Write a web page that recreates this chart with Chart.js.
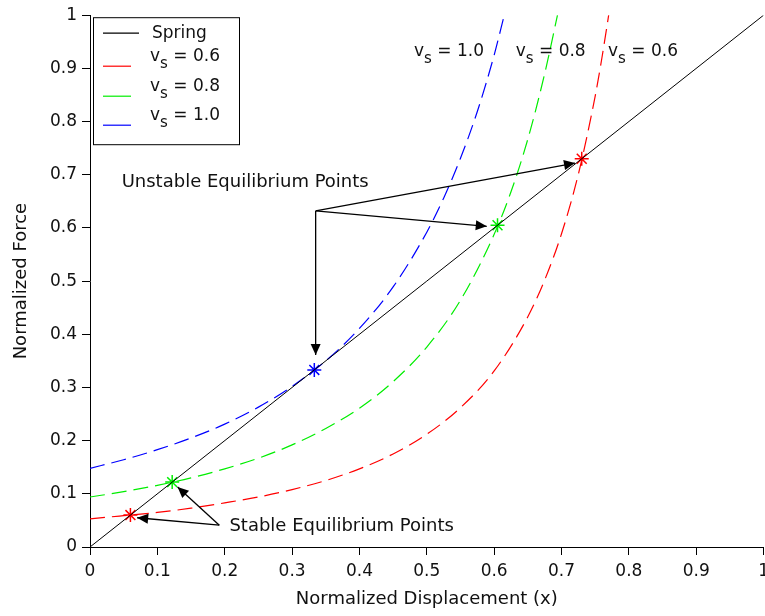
<!DOCTYPE html>
<html>
<head>
<meta charset="utf-8">
<script src="https://cdn.jsdelivr.net/npm/chart.js@4"></script>
<style>
  html, body { margin: 0; padding: 0; background: #fff; overflow: hidden; }
  #wrap { width: 765px; height: 616px; overflow: hidden; }
</style>
</head>
<body>
<div id="wrap"><canvas id="mycanvas" width="775" height="616"></canvas></div>
<script>
// axis ticks
var tickLabels = ['0', '0.1', '0.2', '0.3', '0.4', '0.5', '0.6', '0.7', '0.8', '0.9', '1'];

// spring line
var springX = [0, 1];
var springY = [0, 1];

// electrostatic force curves
var redX = [0, 0.05, 0.1, 0.15, 0.2, 0.25, 0.3, 0.35, 0.4, 0.45, 0.5, 0.55, 0.6, 0.65, 0.675, 0.7, 0.725, 0.75, 0.76, 0.77];
var redY = [0.053, 0.059, 0.065, 0.073, 0.083, 0.094, 0.108, 0.125, 0.147, 0.175, 0.212, 0.262, 0.331, 0.433, 0.502, 0.589, 0.701, 0.848, 0.920, 1.0];

var greenX = [0, 0.05, 0.1, 0.15, 0.2, 0.25, 0.3, 0.35, 0.4, 0.45, 0.5, 0.55, 0.6, 0.625, 0.65, 0.675, 0.694];
var greenY = [0.094, 0.104, 0.116, 0.130, 0.147, 0.167, 0.192, 0.223, 0.261, 0.311, 0.376, 0.464, 0.588, 0.668, 0.767, 0.890, 1.0];

var blueX = [0, 0.05, 0.1, 0.15, 0.2, 0.25, 0.3, 0.35, 0.4, 0.45, 0.5, 0.525, 0.55, 0.575, 0.6, 0.615];
var blueY = [0.148, 0.164, 0.183, 0.205, 0.231, 0.263, 0.302, 0.350, 0.411, 0.489, 0.592, 0.656, 0.731, 0.819, 0.925, 1.0];

// equilibrium points
var eqX = [0.06, 0.122, 0.333, 0.605, 0.73];
var eqY = [0.06, 0.122, 0.333, 0.605, 0.73];
var eqColors = ['#ff0000', '#00ee00', '#0000ff', '#00ee00', '#ff0000'];

// annotation arrows (data coords)
var unstableFrom = [0.335, 0.632];
var unstableTo = [[0.720, 0.722], [0.589, 0.603], [0.335, 0.361]];
var stableFrom = [0.192, 0.041];
var stableTo = [[0.070, 0.055], [0.130, 0.113]];

// annotation texts
var unstableText = { text: 'Unstable Equilibrium Points', x: 0.047, y: 0.686 };
var stableText = { text: 'Stable Equilibrium Points', x: 0.207, y: 0.038 };
var curveLabels = [
  { v: '1.0', x: 0.481, y: 0.934 },
  { v: '0.8', x: 0.632, y: 0.934 },
  { v: '0.6', x: 0.769, y: 0.934 }
];

var legendNames = ['Spring', '0.6', '0.8', '1.0'];
var legendColors = ['#000000', '#ff0000', '#00ee00', '#0000ff'];

function pts(xs, ys) {
  var out = [];
  for (var i in xs) {
    out.push({ x: xs[i], y: ys[i] });
  }
  return out;
}

var FONT = 'DejaVu Sans';
var TXT = '#111';

function vsText(ctx, x, y, val) {
  // "v" with subscript "s" then " = val"
  ctx.font = '17px ' + FONT;
  ctx.textBaseline = 'alphabetic';
  ctx.textAlign = 'left';
  ctx.fillText('v', x, y);
  var w = ctx.measureText('v').width;
  ctx.font = '15px ' + FONT;
  ctx.fillText('s', x + w, y + 7);
  var w2 = ctx.measureText('s').width;
  ctx.font = '17px ' + FONT;
  ctx.fillText(' = ' + val, x + w + w2, y);
}

function arrow(ctx, x0, y0, x1, y1) {
  ctx.beginPath();
  ctx.moveTo(x0, y0);
  ctx.lineTo(x1, y1);
  ctx.stroke();
  var a = Math.atan2(y1 - y0, x1 - x0);
  var len = 11, half = 5;
  ctx.beginPath();
  ctx.moveTo(x1, y1);
  ctx.lineTo(x1 - len * Math.cos(a) + half * Math.sin(a), y1 - len * Math.sin(a) - half * Math.cos(a));
  ctx.lineTo(x1 - len * Math.cos(a) - half * Math.sin(a), y1 - len * Math.sin(a) + half * Math.cos(a));
  ctx.closePath();
  ctx.fill();
}

var extras = {
  id: 'extras',
  afterDatasetsDraw: function(chart) {
    var ctx = chart.ctx;
    var sx = chart.scales.x, sy = chart.scales.y;
    var area = chart.chartArea;
    ctx.save();
    ctx.strokeStyle = '#000';
    ctx.fillStyle = '#000';
    ctx.lineWidth = 1.3;

    var ox = sx.getPixelForValue(unstableFrom[0]), oy = sy.getPixelForValue(unstableFrom[1]);
    unstableTo.forEach(function(p) {
      arrow(ctx, ox, oy, sx.getPixelForValue(p[0]), sy.getPixelForValue(p[1]));
    });
    ox = sx.getPixelForValue(stableFrom[0]); oy = sy.getPixelForValue(stableFrom[1]);
    stableTo.forEach(function(p) {
      arrow(ctx, ox, oy, sx.getPixelForValue(p[0]), sy.getPixelForValue(p[1]));
    });

    ctx.fillStyle = TXT;
    ctx.font = '18px ' + FONT;
    ctx.textBaseline = 'middle';
    ctx.textAlign = 'left';
    ctx.fillText(unstableText.text, sx.getPixelForValue(unstableText.x), sy.getPixelForValue(unstableText.y));
    ctx.fillText(stableText.text, sx.getPixelForValue(stableText.x), sy.getPixelForValue(stableText.y));

    curveLabels.forEach(function(c) {
      vsText(ctx, sx.getPixelForValue(c.x), sy.getPixelForValue(c.y) + 6, c.v);
    });

    // legend box
    var lx = area.left + 3, ly = area.top + 2;
    ctx.fillStyle = '#fff';
    ctx.fillRect(lx, ly, 146, 127);
    ctx.strokeStyle = '#000';
    ctx.lineWidth = 1;
    ctx.strokeRect(lx + 0.5, ly + 0.5, 146, 127);
    var rowY = [16, 49, 79, 108];
    for (var i = 0; i < legendNames.length; i++) {
      ctx.strokeStyle = legendColors[i];
      ctx.lineWidth = 1.2;
      ctx.beginPath();
      ctx.moveTo(lx + 10, ly + rowY[i]);
      ctx.lineTo(lx + (i === 0 ? 46 : 38), ly + rowY[i]);
      ctx.stroke();
      ctx.fillStyle = TXT;
      if (i === 0) {
        ctx.font = '17px ' + FONT;
        ctx.textBaseline = 'middle';
        ctx.fillText(legendNames[i], lx + 59, ly + rowY[i]);
      } else {
        vsText(ctx, lx + 57, ly + rowY[i] - 5, legendNames[i]);
      }
    }
    ctx.restore();
  }
};

var chartdata = {
  datasets: [
    {
      label: 'Spring',
      data: pts(springX, springY),
      borderColor: '#000',
      borderWidth: 1,
      pointRadius: 0
    },
    {
      label: 'vs = 0.6',
      data: pts(redX, redY),
      borderColor: '#ff0000',
      borderWidth: 1.2,
      borderDash: [15, 7],
      cubicInterpolationMode: 'monotone',
      pointRadius: 0
    },
    {
      label: 'vs = 0.8',
      data: pts(greenX, greenY),
      borderColor: '#00ee00',
      borderWidth: 1.2,
      borderDash: [15, 7],
      cubicInterpolationMode: 'monotone',
      pointRadius: 0
    },
    {
      label: 'vs = 1.0',
      data: pts(blueX, blueY),
      borderColor: '#0000ff',
      borderWidth: 1.2,
      borderDash: [15, 7],
      cubicInterpolationMode: 'monotone',
      pointRadius: 0
    },
    {
      label: 'equilibrium',
      data: pts(eqX, eqY),
      showLine: false,
      pointStyle: 'star',
      pointRadius: 7,
      pointBorderWidth: 1.5,
      pointBorderColor: eqColors,
      pointBackgroundColor: eqColors
    }
  ]
};

var axisCommon = {
  type: 'linear',
  min: 0,
  max: 1,
  border: { color: '#000', width: 1 },
  grid: { drawOnChartArea: false, drawTicks: true, tickLength: 8, color: '#000' },
  ticks: {
    stepSize: 0.1,
    color: TXT,
    font: { family: FONT, size: 17 },
    padding: 6,
    callback: function(v, i) { return tickLabels[i]; }
  },
  title: { display: true, color: TXT, font: { family: FONT, size: 18 } }
};

var xAxis = Object.assign({}, axisCommon, {
  title: Object.assign({}, axisCommon.title, { text: 'Normalized Displacement (x)', padding: { top: 0, bottom: 6 } }),
  afterFit: function(scale) { scale.height = 69; }
});
var yAxis = Object.assign({}, axisCommon, {
  ticks: Object.assign({}, axisCommon.ticks, { padding: 5 }),
  title: Object.assign({}, axisCommon.title, { text: 'Normalized Force', padding: { top: 11, bottom: 0 } }),
  afterFit: function(scale) { scale.width = 90; }
});

var ctx = document.getElementById('mycanvas');
var LineGraph = new Chart(ctx, {
  type: 'line',
  data: chartdata,
  options: {
    responsive: false,
    animation: false,
    devicePixelRatio: 1,
    layout: { padding: { top: 15, left: 0, right: 0, bottom: 0 } },
    plugins: { legend: { display: false }, tooltip: { enabled: false } },
    scales: { x: xAxis, y: yAxis }
  },
  plugins: [extras]
});
</script>
</body>
</html>
